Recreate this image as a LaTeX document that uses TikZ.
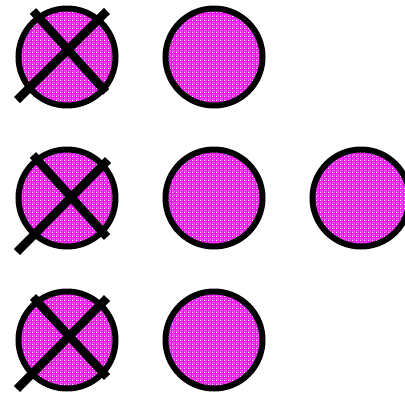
\documentclass[tikz,border=0pt]{standalone}
\usetikzlibrary{patterns}
\definecolor{mag}{RGB}{255,0,255}
\pgfdeclarepatternformonly{magdots}{\pgfpointorigin}{\pgfpoint{4pt}{4pt}}{\pgfpoint{4pt}{4pt}}{%
  \pgfpathrectangle{\pgfpoint{0pt}{0pt}}{\pgfpoint{1.2pt}{1.2pt}}%
  \pgfpathrectangle{\pgfpoint{2pt}{2pt}}{\pgfpoint{1.2pt}{1.2pt}}%
  \pgfpathrectangle{\pgfpoint{2pt}{0pt}}{\pgfpoint{0.9pt}{0.9pt}}%
  \pgfpathrectangle{\pgfpoint{0pt}{2pt}}{\pgfpoint{0.9pt}{0.9pt}}%
  \pgfusepath{fill}}
\begin{document}
\begin{tikzpicture}[x=1pt,y=-1pt,
  disc/.style={circle, draw=black, line width=6pt, minimum size=97pt, inner sep=0pt,
    preaction={fill=mag}, preaction={pattern=magdots, pattern color=white}},
  xline/.style={line width=8.5pt, draw=black, line cap=butt}]
\clip (0,0) rectangle (405,392);
\useasboundingbox (0,0) rectangle (405,392);
\node[disc] (a1) at (67,57) {};
\node[disc] (b1) at (214,57) {};
\node[disc] (a2) at (67,198) {};
\node[disc] (b2) at (214,198) {};
\node[disc] (c2) at (361,198) {};
\node[disc] (a3) at (67,340) {};
\node[disc] (b3) at (214,340) {};
% crosses
\draw[xline] ([shift={(-34,-46)}]a1.center) -- ([shift={(39,35)}]a1.center);
\draw[xline] ([shift={(40,-46)}]a1.center) -- ([shift={(-50,43)}]a1.center);
\draw[xline] ([shift={(-34,-43)}]a2.center) -- ([shift={(40,39)}]a2.center);
\draw[xline] ([shift={(41,-38)}]a2.center) -- ([shift={(-50,54)}]a2.center);
\draw[xline] ([shift={(-34,-43)}]a3.center) -- ([shift={(40,37)}]a3.center);
\draw[xline] ([shift={(40,-42)}]a3.center) -- ([shift={(-50,49)}]a3.center);
\end{tikzpicture}
\end{document}
